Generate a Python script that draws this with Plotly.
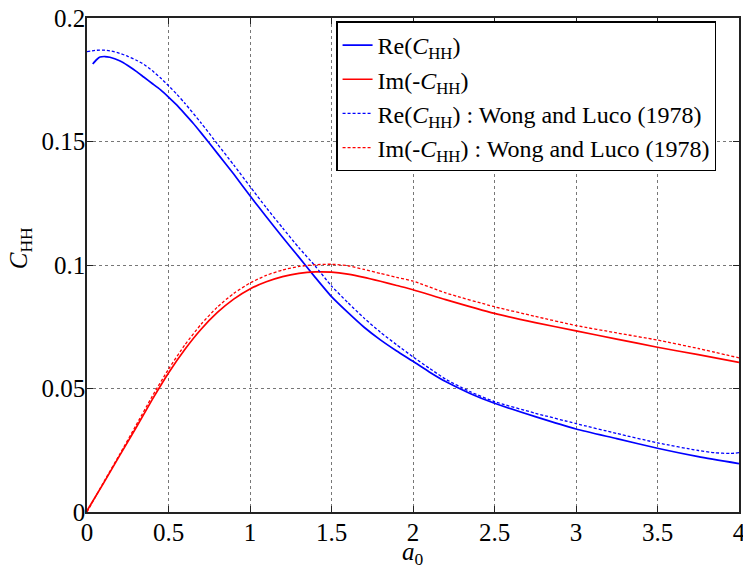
import plotly.graph_objects as go

# Re(C_HH) - present solution
re_x = [0.035, 0.06, 0.08, 0.11, 0.14, 0.2, 0.25, 0.3, 0.35, 0.4, 0.45, 0.5, 0.55, 0.6, 0.65, 0.7,
        0.8, 0.9, 1.0, 1.1, 1.2, 1.3, 1.4, 1.5, 1.6, 1.7, 1.8, 1.9, 2.0, 2.1, 2.2, 2.35, 2.5, 2.75,
        3.0, 3.25, 3.5, 3.75, 4.0]
re_y = [0.1814, 0.1832, 0.1842, 0.1844, 0.1841, 0.1827, 0.1808, 0.1785, 0.1760, 0.1735, 0.1710,
        0.1680, 0.1648, 0.1612, 0.1575, 0.1535, 0.1452, 0.1368, 0.1280, 0.1195, 0.1112, 0.1032,
        0.0950, 0.0872, 0.0808, 0.0748, 0.0697, 0.0652, 0.0610, 0.0567, 0.0528, 0.0480, 0.0440,
        0.0386, 0.0336, 0.0297, 0.0258, 0.0224, 0.0196]

# Re(C_HH) - Wong and Luco (1978)
rew_x = [0.0, 0.05, 0.1, 0.15, 0.2, 0.25, 0.3, 0.35, 0.4, 0.45, 0.5, 0.55, 0.6, 0.7, 0.8, 0.9,
         1.0, 1.1, 1.2, 1.3, 1.4, 1.5, 1.6, 1.7, 1.8, 1.9, 2.0, 2.1, 2.2, 2.35, 2.5, 2.75, 3.0,
         3.25, 3.5, 3.75, 3.85, 3.95, 4.0]
rew_y = [0.1864, 0.1869, 0.1870, 0.1866, 0.1857, 0.1845, 0.1830, 0.1812, 0.1787, 0.1758, 0.1726,
         0.1692, 0.1655, 0.1575, 0.1490, 0.1405, 0.1318, 0.1232, 0.1150, 0.1070, 0.0996, 0.0915,
         0.0848, 0.0785, 0.0728, 0.0677, 0.0628, 0.0582, 0.0538, 0.0487, 0.0447, 0.0400, 0.0358,
         0.0318, 0.0280, 0.0249, 0.0240, 0.0237, 0.0240]

# Im(-C_HH) - present solution
im_x = [0.0, 0.1, 0.2, 0.3, 0.4, 0.5, 0.6, 0.7, 0.8, 0.9, 1.0, 1.1, 1.2, 1.3, 1.4, 1.5, 1.6,
        1.7, 1.8, 1.9, 2.0, 2.2, 2.5, 2.75, 3.0, 3.25, 3.5, 3.75, 4.0]
im_y = [0.0005, 0.0115, 0.0228, 0.0340, 0.0455, 0.0563, 0.0658, 0.0740, 0.0808, 0.0862, 0.0903,
        0.0932, 0.0953, 0.0966, 0.0972, 0.0971, 0.0963, 0.0950, 0.0934, 0.0917, 0.0900, 0.0860,
        0.0804, 0.0767, 0.0733, 0.0700, 0.0667, 0.0637, 0.0606]

# Im(-C_HH) - Wong and Luco (1978)
imw_x = [0.0, 0.1, 0.2, 0.3, 0.4, 0.5, 0.6, 0.7, 0.8, 0.9, 1.0, 1.1, 1.2, 1.3, 1.4, 1.5, 1.6,
         1.7, 1.8, 1.9, 2.0, 2.2, 2.5, 2.75, 3.0, 3.25, 3.5, 3.75, 4.0]
imw_y = [0.0, 0.0118, 0.0233, 0.0350, 0.0468, 0.0578, 0.0676, 0.0760, 0.0830, 0.0885, 0.0927,
         0.0958, 0.0980, 0.0994, 0.1001, 0.1003, 0.0997, 0.0982, 0.0966, 0.0950, 0.0935, 0.0887,
         0.0831, 0.0792, 0.0755, 0.0725, 0.0696, 0.0662, 0.0624]

x_ticks = [0, 0.5, 1, 1.5, 2, 2.5, 3, 3.5, 4]
x_tick_labels = ["0", "0.5", "1", "1.5", "2", "2.5", "3", "3.5", "4"]
y_ticks = [0, 0.05, 0.1, 0.15, 0.2]
y_tick_labels = ["0", "0.05", "0.1", "0.15", "0.2"]
x_title = "<i>a</i><sub>0</sub>"
y_title = "<i>C</i><sub>HH</sub>"

FONT = "Liberation Serif"
BLUE = "#0000ff"
RED = "#ff0000"

fig = go.Figure()
fig.add_trace(go.Scatter(x=re_x, y=re_y, mode="lines", name="Re(<i>C</i><sub>HH</sub>)",
                         line=dict(color=BLUE, width=1.7, shape="spline", smoothing=0.6)))
fig.add_trace(go.Scatter(x=im_x, y=im_y, mode="lines", name="Im(-<i>C</i><sub>HH</sub>)",
                         line=dict(color=RED, width=1.7, shape="spline", smoothing=0.6)))
fig.add_trace(go.Scatter(x=rew_x, y=rew_y, mode="lines",
                         name="Re(<i>C</i><sub>HH</sub>) : Wong and Luco (1978)",
                         line=dict(color=BLUE, width=1.3, dash="3px,2px", shape="spline", smoothing=0.6)))
fig.add_trace(go.Scatter(x=imw_x, y=imw_y, mode="lines",
                         name="Im(-<i>C</i><sub>HH</sub>) : Wong and Luco (1978)",
                         line=dict(color=RED, width=1.3, dash="3px,2px", shape="spline", smoothing=0.6)))

axis_common = dict(
    showline=True, linecolor="#222222", linewidth=1.5, mirror="ticks",
    ticks="inside", ticklen=6, tickwidth=1, tickcolor="#222222",
    showgrid=True, gridcolor="#777777", griddash="dot", gridwidth=1,
    zeroline=False, tickfont=dict(family=FONT, size=25, color="black"),
    ticklabeloverflow="allow",
)

fig.update_xaxes(range=[0, 4], tickvals=x_ticks, ticktext=x_tick_labels,
                 ticklabelstandoff=-3, automargin=False, **axis_common)
fig.update_yaxes(range=[0, 0.2], tickvals=y_ticks, ticktext=y_tick_labels,
                 ticklabelstandoff=-5, automargin=False, **axis_common)

fig.add_annotation(text=x_title, xref="paper", yref="paper", x=0.5, y=-0.083,
                   xanchor="center", yanchor="middle", showarrow=False,
                   font=dict(family=FONT, size=25, color="black"))
fig.add_annotation(text=y_title, xref="paper", yref="paper", x=-0.102, y=0.535,
                   xanchor="center", yanchor="middle", showarrow=False, textangle=-90,
                   font=dict(family=FONT, size=25, color="black"))

fig.update_layout(
    width=743, height=567,
    margin=dict(l=87, r=4, t=18, b=55),
    paper_bgcolor="white", plot_bgcolor="white",
    font=dict(family=FONT, size=24, color="black"),
    showlegend=True,
    legend=dict(x=0.382, y=0.993, xanchor="left", yanchor="top",
                bgcolor="white", bordercolor="black", borderwidth=1.5,
                font=dict(family=FONT, size=24, color="black"),
                itemwidth=30, tracegroupgap=0),
)

fig.write_html("out.html", config={"displayModeBar": False},
               post_script="document.body.style.margin='0px';")
